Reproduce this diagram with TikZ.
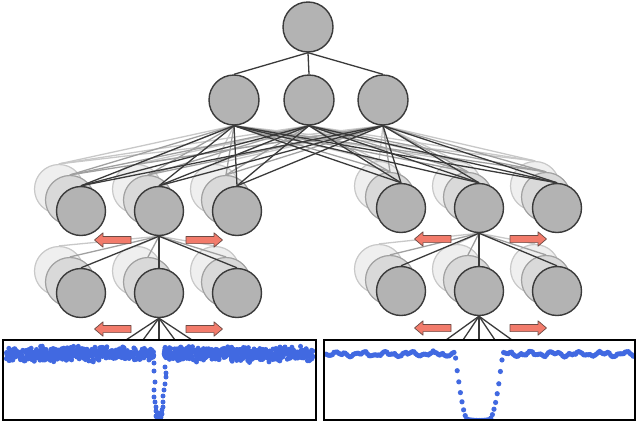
\documentclass[tikz,border=0pt]{standalone}
\usetikzlibrary{shapes.geometric}
\definecolor{frontfill}{HTML}{B3B3B3}
\definecolor{frontdraw}{HTML}{3A3A3A}
\definecolor{gAfill}{HTML}{D9D9D9}
\definecolor{gAdraw}{HTML}{A0A0A0}
\definecolor{gBfill}{HTML}{EFEFEF}
\definecolor{gBdraw}{HTML}{C8C8C8}
\definecolor{dotblue}{HTML}{4169E1}
\definecolor{salmon}{HTML}{F27B6B}
\definecolor{arrowline}{HTML}{6B4A44}
\pgfdeclarelayer{gBline}
\pgfdeclarelayer{gBcirc}
\pgfdeclarelayer{gAline}
\pgfdeclarelayer{gAcirc}
\pgfdeclarelayer{fline}
\pgfsetlayers{gBline,gBcirc,gAline,gAcirc,fline,main}
\tikzset{
  neuron/.style={circle,minimum size=49pt,inner sep=0pt,fill=frontfill,draw=frontdraw,line width=1.4pt},
  ghostA/.style={circle,minimum size=49pt,inner sep=0pt,fill=gAfill,draw=gAdraw,line width=1.2pt},
  ghostB/.style={circle,minimum size=49pt,inner sep=0pt,fill=gBfill,draw=gBdraw,line width=1.2pt},
  fl/.style={draw=frontdraw,line width=1.3pt},
  gAl/.style={draw=gAdraw,line width=1.3pt},
  gBl/.style={draw=gBdraw,line width=1.3pt},
  panel/.style={draw=black,line width=1.4pt},
  dotc/.style={fill=dotblue},
  blockarrow/.style={fill=salmon,draw=arrowline,line width=0.7pt,line join=round},
  rarr/.pic={\path[blockarrow] (-18,-3.6) -- (10,-3.6) -- (10,-7.2) -- (18.5,0) -- (10,7.2) -- (10,3.6) -- (-18,3.6) -- cycle;},
  larr/.pic={\path[blockarrow] (18,-3.6) -- (-10,-3.6) -- (-10,-7.2) -- (-18.5,0) -- (-10,7.2) -- (-10,3.6) -- (18,3.6) -- cycle;}
}
\begin{document}
\begin{tikzpicture}[x=1pt,y=-1pt]
\useasboundingbox (0,0) rectangle (640,426);
% top layers
\node[neuron,minimum size=50pt] (t) at (308,27) {};
\node[neuron,minimum size=50pt] (h1) at (234,100) {};
\node[neuron,minimum size=50pt] (h2) at (309,100) {};
\node[neuron,minimum size=50pt] (h3) at (383,100) {};
% third and fourth rows with ghost copies
\foreach \n/\x/\y in {L1/81/211,L2/159/211,L3/237/211,R1/401/208,R2/479/208,R3/557/208,
                      P1/81/293,P2/159/293,P3/237/293,Q1/401/291,Q2/479/291,Q3/557/291}{
  \begin{pgfonlayer}{gBcirc}\node[ghostB] (gB\n) at (\x-22,\y-22) {};\end{pgfonlayer}
  \begin{pgfonlayer}{gAcirc}\node[ghostA] (gA\n) at (\x-11,\y-11) {};\end{pgfonlayer}
  \node[neuron] (\n) at (\x,\y) {};
}
% connections
\begin{pgfonlayer}{fline}
\foreach \s in {h1,h2,h3} \draw[fl] (t.south) -- (\s.north);
\foreach \s in {h1,h2,h3} \foreach \d in {L1,L2,L3,R1,R2,R3} \draw[fl] (\s.south) -- (\d.north);
\foreach \d in {P1,P2,P3} \draw[fl] (L2.south) -- (\d.north);
\foreach \d in {Q1,Q2,Q3} \draw[fl] (R2.south) -- (\d.north);
\end{pgfonlayer}
\begin{pgfonlayer}{gAline}
\foreach \s in {h1,h2,h3} \foreach \d in {L1,L2,L3,R1,R2,R3} \draw[gAl] (\s.south) -- (gA\d.north);
\foreach \d in {P1,P2,P3} \draw[gAl] (L2.south) -- (gA\d.north);
\foreach \d in {Q1,Q2,Q3} \draw[gAl] (R2.south) -- (gA\d.north);
\end{pgfonlayer}
\begin{pgfonlayer}{gBline}
\foreach \s in {h1,h2,h3} \foreach \d in {L1,L2,L3,R1,R2,R3} \draw[gBl] (\s.south) -- (gB\d.north);
\foreach \d in {P1,P2,P3} \draw[gBl] (L2.south) -- (gB\d.north);
\foreach \d in {Q1,Q2,Q3} \draw[gBl] (R2.south) -- (gB\d.north);
\end{pgfonlayer}
% inputs to panels
\foreach \k/\x in {1/126,2/143,3/159,4/175,5/192} {
  \coordinate (inL\k) at (\x,340);
  \draw[fl] (P2.south) -- (inL\k);
}
\foreach \k/\x in {1/446,2/463,3/479,4/495,5/512} {
  \coordinate (inR\k) at (\x,340);
  \draw[fl] (Q2.south) -- (inR\k);
}
% light curves
\pgfmathsetseed{7}
\begin{scope}
\clip (3,340) rectangle (316,420);
\foreach \i in {1,...,560}{
  \pgfmathsetmacro\px{6+rnd*148}
  \pgfmathsetmacro\py{354+(rnd+rnd+rnd-1.5)*6.2}
  \fill[dotc] (\px,\py) circle (2.5);
}
\foreach \i in {1,...,560}{
  \pgfmathsetmacro\px{164+rnd*150}
  \pgfmathsetmacro\py{354+(rnd+rnd+rnd-1.5)*6.2}
  \fill[dotc] (\px,\py) circle (2.5);
}
\foreach \px/\py in {154/363,154/371,155/382,154/390,154/397,155/402,156/407,156/411,157/415,158/418,
  159/420,160/419,161/417,162/414,162/410,163/407,163/402,163/396,164/390,165/384,166/377,166/373,165/367,
  157/419,160/421,158/413,161/420,156/416}{
  \fill[dotc] (\px,\py) circle (2.5);
}
\end{scope}
\begin{scope}
\clip (324,340) rectangle (635,420);
\foreach \px in {326,327.6,...,634}{
  \pgfmathsetmacro\u{\px-320}
  \pgfmathsetmacro\base{354+1.5*sin(\u*15)+1.2*sin(\u*37+40)+1.2*(rnd-0.5)}
  \pgfmathsetmacro\f{max(0,min(1,min((\px-455)/13,(503-\px)/14)))}
  \pgfmathsetmacro\g{sin(90*\f)}
  \pgfmathsetmacro\py{\base+\g*(418.5-\base)+\g*2*cos((\px-479)*5)}
  \fill[dotc] (\px,\py) circle (2.6);
}
\end{scope}
\draw[panel] (3,340) rectangle (316,420);
\draw[panel] (324,340) rectangle (635,420);
% shift arrows
\pic at (113,240) {larr};
\pic at (204,240) {rarr};
\pic at (433,239) {larr};
\pic at (528,239) {rarr};
\pic at (113,329) {larr};
\pic at (204,329) {rarr};
\pic at (433,328) {larr};
\pic at (528,328) {rarr};
\end{tikzpicture}
\end{document}
